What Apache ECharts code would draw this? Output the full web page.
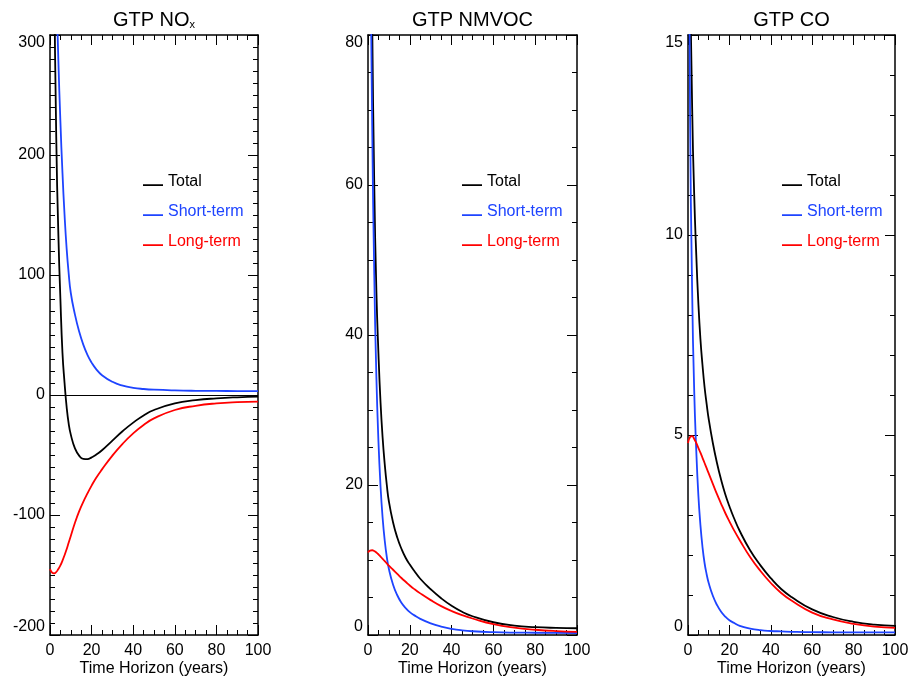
<!DOCTYPE html>
<html>
<head>
<meta charset="utf-8">
<title>GTP</title>
<script src="https://cdn.jsdelivr.net/npm/echarts@6/dist/echarts.min.js"></script>
<style>
  html, body { margin: 0; padding: 0; background: #fff; }
  #main { width: 909px; height: 676px; }
</style>
</head>
<body>
<div id="main"></div>
<script>
// time horizon (years), shared by every panel
var years = [0, 1, 2, 3, 4, 5, 6, 7, 8, 9, 10, 12, 14, 16, 18, 20, 22, 25, 30, 35, 40, 45, 50, 60, 70, 80, 90, 100];

// GTP NOx
var noxTotal = [780, 540, 355, 215, 135, 80, 35, 10, -10, -24, -33, -44.5, -50.5, -53.3, -53.5, -52, -50, -46, -38, -30, -23, -17, -12.5, -7, -4.3, -2.8, -1.9, -1.4];
var noxShort = [620, 510, 420, 345, 280, 228, 185, 150, 122, 101, 85, 67, 53, 42, 33.5, 27, 22, 16.5, 11, 7.8, 6.0, 5.0, 4.4, 3.8, 3.5, 3.4, 3.3, 3.3];
var noxLong = [-145, -148, -148.6, -147.5, -145, -142, -138, -133.5, -128.5, -123, -117.5, -106.5, -97, -89, -82, -75.5, -69.5, -62, -50.5, -40.5, -32, -25, -19.5, -12.5, -9, -7, -6, -5.6];

// GTP NMVOC
var vocTotal = [156, 113, 82, 60, 46, 37.5, 31, 26.3, 22.8, 20.0, 17.8, 15.0, 13.0, 11.5, 10.3, 9.4, 8.6, 7.5, 6.1, 4.9, 3.9, 3.1, 2.5, 1.7, 1.25, 1.05, 0.95, 0.9];
var vocShort = [140, 98, 68, 48, 34.5, 25.8, 19.8, 15.6, 12.6, 10.4, 8.8, 6.7, 5.3, 4.3, 3.6, 3.05, 2.65, 2.15, 1.55, 1.12, 0.82, 0.62, 0.5, 0.38, 0.32, 0.3, 0.28, 0.27];
var vocLong = [11.0, 11.25, 11.3, 11.2, 11.0, 10.75, 10.45, 10.15, 9.85, 9.55, 9.25, 8.7, 8.15, 7.6, 7.1, 6.6, 6.15, 5.55, 4.65, 3.85, 3.2, 2.65, 2.2, 1.45, 0.98, 0.7, 0.52, 0.42];

// GTP CO
var coTotal = [24, 17, 13.2, 11.0, 9.5, 8.3, 7.4, 6.75, 6.2, 5.78, 5.4, 4.8, 4.3, 3.88, 3.52, 3.22, 2.95, 2.6, 2.12, 1.74, 1.42, 1.15, 0.95, 0.64, 0.45, 0.33, 0.26, 0.23];
var coShort = [22, 13, 8.6, 6.1, 4.6, 3.5, 2.75, 2.2, 1.8, 1.52, 1.3, 0.98, 0.75, 0.58, 0.46, 0.37, 0.31, 0.23, 0.16, 0.12, 0.1, 0.09, 0.08, 0.07, 0.068, 0.066, 0.065, 0.065];
var coLong = [4.8, 4.95, 4.97, 4.9, 4.8, 4.68, 4.56, 4.43, 4.3, 4.17, 4.04, 3.78, 3.52, 3.28, 3.05, 2.84, 2.64, 2.37, 1.95, 1.6, 1.3, 1.05, 0.86, 0.56, 0.39, 0.28, 0.21, 0.18];

var seriesNames = ['Total', 'Short-term', 'Long-term'];
var colors = ['#000000', '#1e44ff', '#ff0000'];

var font = 'Liberation Sans, Arial, sans-serif';
var grids = [
  { left: 50, top: 35, width: 208, height: 600, outerBoundsMode: 'none' },
  { left: 368, top: 35, width: 209, height: 600, outerBoundsMode: 'none' },
  { left: 688, top: 35, width: 207, height: 600, outerBoundsMode: 'none' }
];
// y ranges per panel
var yCfg = [
  { min: -200, max: 300, interval: 100, minor: 10 },
  { min: 0, max: 80, interval: 20, minor: 4 },
  { min: 0, max: 15, interval: 5, minor: 5 }
];
var panels = [
  [noxTotal, noxShort, noxLong],
  [vocTotal, vocShort, vocLong],
  [coTotal, coShort, coLong]
];
var titles = ['{a|GTP NO}{b|x}', '{a|GTP NMVOC}', '{a|GTP CO}'];
var legendLeft = [143, 462, 782];
// short line sitting a little below the text centre (tiny corner dots only fix the box)
var legendIcon = 'path://M0,0L0.01,0L0.01,0.01L0,0.01Z M0,8.2L20,8.2L20,10L0,10Z M0,11.99L0.01,11.99L0.01,12L0,12Z';

function pairs(vals) {
  return years.map(function (y, i) { return [y, vals[i]]; });
}

var axisLine = { show: true, onZero: false, lineStyle: { color: '#000', width: 1.5 } };
var tick = { show: true, inside: true, length: 10, lineStyle: { color: '#000', width: 1 } };

var xAxes = [], yAxes = [], series = [], title = [], legend = [];
for (var p = 0; p < 3; p++) {
  var g = grids[p];
  var minorX = { show: true, splitNumber: 4, length: 5, lineStyle: { color: '#000', width: 1 } };
  var minorY = { show: true, splitNumber: yCfg[p].minor, length: 5, lineStyle: { color: '#000', width: 1 } };
  xAxes.push({
    type: 'value', gridIndex: p, position: 'bottom', min: 0, max: 100, interval: 20,
    axisLine: axisLine, axisTick: tick, minorTick: minorX, splitLine: { show: false },
    axisLabel: { color: '#000', fontSize: 16, fontFamily: font, margin: 8 },
    name: 'Time Horizon (years)', nameLocation: 'middle', nameGap: 26, nameMoveOverlap: false,
    nameTextStyle: { color: '#000', fontSize: 16, fontFamily: font, lineHeight: 16 }
  });
  xAxes.push({
    type: 'value', gridIndex: p, position: 'top', min: 0, max: 100, interval: 20,
    axisLine: axisLine, axisTick: tick, minorTick: minorX, splitLine: { show: false },
    axisLabel: { show: false }
  });
  yAxes.push({
    type: 'value', gridIndex: p, position: 'left',
    min: yCfg[p].min, max: yCfg[p].max, interval: yCfg[p].interval,
    axisLine: axisLine, axisTick: tick, minorTick: minorY, splitLine: { show: false },
    axisLabel: { color: '#000', fontSize: 16, fontFamily: font, margin: 5,
      verticalAlignMinLabel: 'bottom', verticalAlignMaxLabel: 'top' }
  });
  yAxes.push({
    type: 'value', gridIndex: p, position: 'right',
    min: yCfg[p].min, max: yCfg[p].max, interval: yCfg[p].interval,
    axisLine: axisLine, axisTick: tick, minorTick: minorY, splitLine: { show: false },
    axisLabel: { show: false }
  });

  title.push({
    text: titles[p], left: g.left + g.width / 2, top: 8, textAlign: 'center', padding: 0,
    textStyle: {
      fontFamily: font, fontWeight: 'normal', color: '#000',
      rich: {
        a: { fontSize: 20, fontFamily: font, color: '#000', lineHeight: 22, verticalAlign: 'bottom' },
        b: { fontSize: 11, fontFamily: font, color: '#000', lineHeight: 12, verticalAlign: 'bottom' }
      }
    }
  });

  legend.push({
    orient: 'vertical', left: legendLeft[p], top: 174, padding: 0,
    icon: legendIcon, itemWidth: 20, itemHeight: 12, itemGap: 14, textGap: 11,
    selectedMode: false,
    textStyle: { fontSize: 16, fontFamily: font, lineHeight: 16 },
    data: seriesNames.map(function (n, i) {
      return { name: n, textStyle: { color: colors[i] } };
    })
  });

  for (var s = 0; s < 3; s++) {
    var ser = {
      name: seriesNames[s], type: 'line', xAxisIndex: p * 2, yAxisIndex: p * 2,
      data: pairs(panels[p][s]), showSymbol: false, smooth: 0.5,
      clip: true, silent: true,
      lineStyle: { color: colors[s], width: 1.8 }, itemStyle: { color: colors[s] }
    };
    if (p === 0 && s === 0) {
      ser.markLine = {
        silent: true, symbol: 'none', label: { show: false },
        lineStyle: { color: '#000', width: 1, type: 'solid' },
        data: [{ yAxis: 0 }]
      };
    }
    series.push(ser);
  }
}

var chart = echarts.init(document.getElementById('main'));
chart.setOption({
  backgroundColor: '#fff',
  animation: false,
  title: title,
  legend: legend,
  grid: grids,
  xAxis: xAxes,
  yAxis: yAxes,
  series: series
});
</script>
</body>
</html>
